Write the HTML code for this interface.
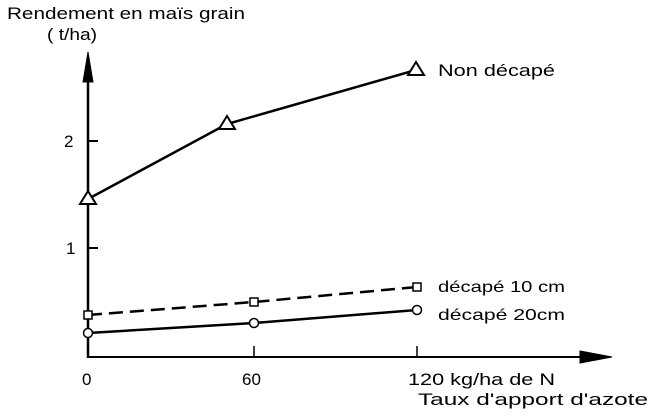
<!DOCTYPE html>
<html><head><meta charset="utf-8"><style>
html,body{margin:0;padding:0;background:#fff}
svg text{font-family:"Liberation Sans",sans-serif;fill:#000}
</style></head><body>
<svg width="650" height="412" viewBox="0 0 650 412" xmlns="http://www.w3.org/2000/svg">
<g stroke="#000" fill="none">
<line x1="88" y1="358" x2="88" y2="70" stroke-width="2.5"/>
<polygon points="88,52 83,82 93,82" fill="#000"/>
<line x1="87" y1="357" x2="590" y2="357" stroke-width="2"/>
<polygon points="612,357 580,351 580,363" fill="#000"/>
<line x1="88" y1="141" x2="98" y2="141" stroke-width="2"/>
<line x1="88" y1="248" x2="98" y2="248" stroke-width="2"/>
<line x1="254" y1="346" x2="254" y2="357" stroke-width="1.5"/>
<line x1="417" y1="346" x2="417" y2="357" stroke-width="1.5"/>
<polyline points="88,199 227,124 416,70" stroke-width="2.5"/>
<polyline points="88,315 254,302 417,287" stroke-width="2.5" stroke-dasharray="14,7"/>
<polyline points="88,333 254,323 417,310" stroke-width="2.5"/>
<polygon points="88,191 80,204 96,204" fill="#fff" stroke-width="2"/>
<polygon points="227,116 219,129 235,129" fill="#fff" stroke-width="2"/>
<polygon points="416,62 408,75 424,75" fill="#fff" stroke-width="2"/>
<rect x="84" y="311" width="8" height="8" fill="#fff" stroke-width="1.5"/>
<rect x="250" y="298" width="8" height="8" fill="#fff" stroke-width="1.5"/>
<rect x="413" y="283" width="8" height="8" fill="#fff" stroke-width="1.5"/>
<circle cx="88" cy="333" r="4.5" fill="#fff" stroke-width="1.5"/>
<circle cx="254" cy="323" r="4.5" fill="#fff" stroke-width="1.5"/>
<circle cx="417" cy="310" r="4.5" fill="#fff" stroke-width="1.5"/>
</g>
<text x="7" y="19" font-size="17" textLength="238" lengthAdjust="spacingAndGlyphs">Rendement en maïs grain</text>
<text x="47" y="40" font-size="17" textLength="50" lengthAdjust="spacingAndGlyphs">( t/ha)</text>
<text x="64" y="147" font-size="17">2</text>
<text x="66" y="254" font-size="17">1</text>
<text x="82" y="385" font-size="17">0</text>
<text x="242" y="385" font-size="17">60</text>
<text x="408" y="385" font-size="17" textLength="147" lengthAdjust="spacingAndGlyphs">120 kg/ha de N</text>
<text x="418" y="405" font-size="17" textLength="230" lengthAdjust="spacingAndGlyphs">Taux d'apport d'azote</text>
<text x="438" y="76" font-size="17" textLength="117" lengthAdjust="spacingAndGlyphs">Non décapé</text>
<text x="438" y="292" font-size="16" textLength="127" lengthAdjust="spacingAndGlyphs">décapé 10 cm</text>
<text x="438" y="320" font-size="16" textLength="127" lengthAdjust="spacingAndGlyphs">décapé 20cm</text>
</svg>
</body></html>
